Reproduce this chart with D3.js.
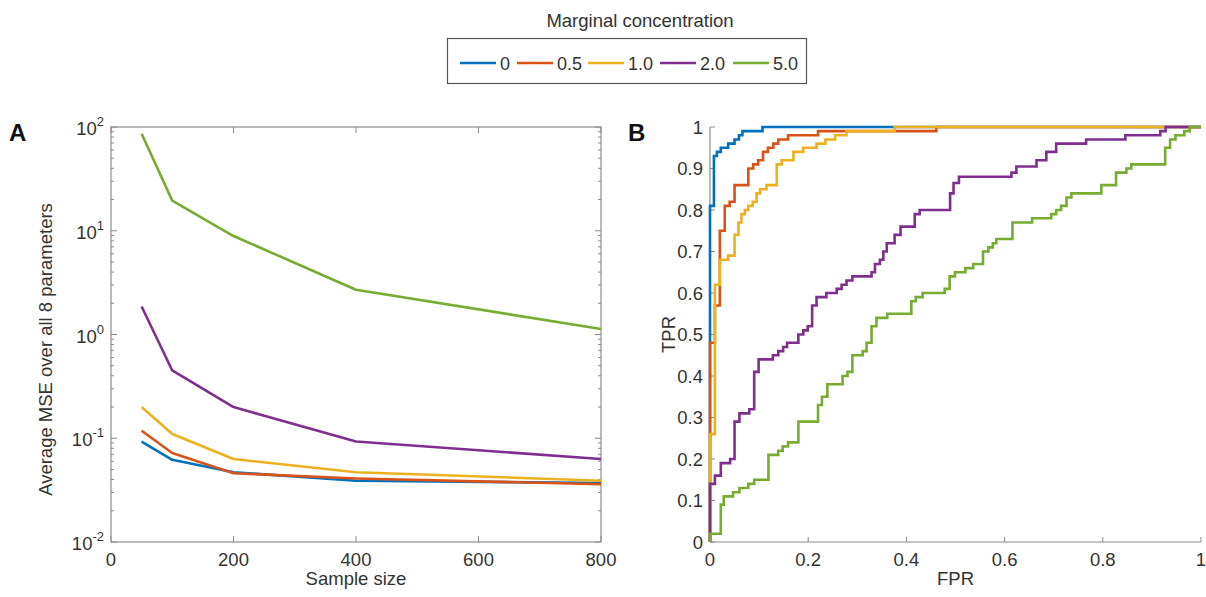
<!DOCTYPE html>
<html>
<head>
<meta charset="utf-8">
<script src="https://cdn.jsdelivr.net/npm/d3@7"></script>
<style>
  html, body { margin: 0; padding: 0; background: #fff; }
  text { font-family: "Liberation Sans", Arial, Helvetica, sans-serif; fill: #333; }
</style>
</head>
<body>
<svg id="chart" width="1206" height="597"></svg>
<script>
(function () {
  'use strict';

  // legend / series
  var concLabels = ['0', '0.5', '1.0', '2.0', '5.0'];
  var colors = ['#0072BD', '#D95319', '#EDB120', '#7E2F8E', '#77AC30'];

  // panel A : average MSE vs sample size
  var sampleSizes = [50, 100, 200, 400, 800];
  var mse0 = [0.093, 0.062, 0.047, 0.039, 0.037];
  var mse05 = [0.118, 0.072, 0.046, 0.041, 0.036];
  var mse1 = [0.20, 0.11, 0.063, 0.047, 0.039];
  var mse2 = [1.86, 0.45, 0.20, 0.093, 0.063];
  var mse5 = [86, 19.5, 8.9, 2.7, 1.13];

  var xTicksA = [0, 200, 400, 600, 800];
  var yTicksA = [0.01, 0.1, 1, 10, 100];
  var yExpA = ['-2', '-1', '0', '1', '2'];

  // panel B : ROC curves (fpr where tpr steps up, tpr after the step)
  var fpr0 = [0, 0, 0.008, 0.014, 0.022, 0.037, 0.05, 0.059, 0.066, 0.107, 1];
  var tpr0 = [0, 0.81, 0.93, 0.94, 0.95, 0.96, 0.97, 0.98, 0.99, 1.0, 1.0];

  var fpr05 = [0, 0, 0.01, 0.02, 0.03, 0.04, 0.05, 0.078, 0.088, 0.098, 0.108, 0.118, 0.129, 0.139, 0.159, 0.22, 0.461, 1];
  var tpr05 = [0, 0.48, 0.57, 0.75, 0.81, 0.82, 0.86, 0.90, 0.91, 0.92, 0.94, 0.95, 0.96, 0.97, 0.98, 0.99, 1.0, 1.0];

  var fpr1 = [0, 0, 0.01, 0.02, 0.037, 0.05, 0.058, 0.064, 0.071, 0.078, 0.087, 0.095, 0.102, 0.115, 0.136, 0.146, 0.17, 0.19, 0.217, 0.235, 0.255, 0.278, 0.376, 1];
  var tpr1 = [0, 0.26, 0.62, 0.68, 0.69, 0.74, 0.77, 0.79, 0.80, 0.81, 0.82, 0.84, 0.85, 0.86, 0.91, 0.92, 0.94, 0.95, 0.96, 0.97, 0.98, 0.99, 1.0, 1.0];

  var fpr2 = [0, 0, 0.01, 0.022, 0.041, 0.05, 0.06, 0.08, 0.09, 0.099, 0.128, 0.139, 0.149, 0.157, 0.18, 0.19, 0.199, 0.208, 0.217, 0.237, 0.258, 0.268, 0.278, 0.29, 0.329, 0.336, 0.346, 0.353, 0.36, 0.376, 0.388, 0.417, 0.427, 0.489, 0.496, 0.507, 0.614, 0.624, 0.665, 0.685, 0.705, 0.766, 0.846, 0.917, 0.928, 1];
  var tpr2 = [0, 0.14, 0.16, 0.19, 0.20, 0.29, 0.31, 0.32, 0.41, 0.44, 0.45, 0.46, 0.47, 0.48, 0.50, 0.51, 0.52, 0.57, 0.59, 0.60, 0.61, 0.62, 0.63, 0.64, 0.65, 0.67, 0.68, 0.70, 0.72, 0.74, 0.76, 0.79, 0.80, 0.84, 0.865, 0.88, 0.89, 0.905, 0.92, 0.94, 0.96, 0.97, 0.98, 0.99, 1.0, 1.0];

  var fpr5 = [0, 0, 0.022, 0.028, 0.047, 0.06, 0.078, 0.09, 0.119, 0.139, 0.148, 0.159, 0.18, 0.22, 0.228, 0.239, 0.27, 0.28, 0.29, 0.311, 0.319, 0.329, 0.339, 0.361, 0.41, 0.419, 0.433, 0.478, 0.488, 0.499, 0.52, 0.536, 0.556, 0.567, 0.576, 0.583, 0.616, 0.656, 0.695, 0.705, 0.715, 0.726, 0.736, 0.797, 0.827, 0.848, 0.858, 0.927, 0.937, 0.948, 0.966, 0.977, 1];
  var tpr5 = [0, 0.02, 0.09, 0.11, 0.12, 0.13, 0.14, 0.15, 0.21, 0.22, 0.23, 0.24, 0.29, 0.33, 0.35, 0.38, 0.40, 0.41, 0.45, 0.46, 0.48, 0.52, 0.54, 0.55, 0.58, 0.59, 0.60, 0.61, 0.64, 0.65, 0.66, 0.67, 0.70, 0.71, 0.72, 0.73, 0.77, 0.78, 0.79, 0.80, 0.81, 0.83, 0.84, 0.86, 0.89, 0.90, 0.91, 0.95, 0.97, 0.98, 0.99, 1.0, 1.0];

  var xTicksB = [0, 0.2, 0.4, 0.6, 0.8, 1];
  var yTicksB = [0, 0.1, 0.2, 0.3, 0.4, 0.5, 0.6, 0.7, 0.8, 0.9, 1];

  var mseSeries = [mse0, mse05, mse1, mse2, mse5];
  var rocSeries = [[fpr0, tpr0], [fpr05, tpr05], [fpr1, tpr1], [fpr2, tpr2], [fpr5, tpr5]];

  var axisColor = '#8c8c8c';
  var svg = d3.select('#chart');

  // ---------- legend ----------
  svg.append('text').attr('x', 640).attr('y', 27).attr('text-anchor', 'middle')
    .style('font-size', '18.5px').text('Marginal concentration');
  svg.append('rect').attr('x', 447.5).attr('y', 38.5).attr('width', 359).attr('height', 45)
    .attr('fill', '#fff').attr('stroke', '#555').attr('stroke-width', 1.2);
  var legX = [460, 517, 588, 660, 733];
  var leg = svg.selectAll('.leg').data(concLabels).enter().append('g').attr('class', 'leg')
    .attr('transform', function (d, i) { return 'translate(' + legX[i] + ',63)'; });
  leg.append('line').attr('x1', 0).attr('x2', 36).attr('y1', 0).attr('y2', 0)
    .attr('stroke', function (d, i) { return colors[i]; }).attr('stroke-width', 2.5);
  leg.append('text').attr('x', 40).attr('y', 6.5).style('font-size', '18px').text(function (d) { return d; });

  // ---------- panel A ----------
  var ax = { l: 111, r: 601, t: 127, b: 542 };
  var xA = d3.scaleLinear().domain([0, 800]).range([ax.l, ax.r]);
  var yA = d3.scaleLog().domain([0.01, 100]).range([ax.b, ax.t]);

  var gA = svg.append('g');
  gA.append('rect').attr('x', ax.l).attr('y', ax.t).attr('width', ax.r - ax.l).attr('height', ax.b - ax.t)
    .attr('fill', 'none').attr('stroke', axisColor).attr('stroke-width', 1.2);

  var minorA = [];
  [0.01, 0.1, 1, 10].forEach(function (dec) {
    for (var k = 2; k <= 9; k++) minorA.push(dec * k);
  });
  [ax.l, ax.r].forEach(function (xp, side) {
    var dir = side === 0 ? 1 : -1;
    gA.selectAll(null).data(yTicksA).enter().append('line')
      .attr('x1', xp).attr('x2', xp + dir * 6)
      .attr('y1', function (d) { return yA(d); }).attr('y2', function (d) { return yA(d); })
      .attr('stroke', axisColor);
    gA.selectAll(null).data(minorA).enter().append('line')
      .attr('x1', xp).attr('x2', xp + dir * 3)
      .attr('y1', function (d) { return yA(d); }).attr('y2', function (d) { return yA(d); })
      .attr('stroke', axisColor);
  });
  [ax.b, ax.t].forEach(function (yp, side) {
    var dir = side === 0 ? -1 : 1;
    gA.selectAll(null).data(xTicksA).enter().append('line')
      .attr('x1', function (d) { return xA(d); }).attr('x2', function (d) { return xA(d); })
      .attr('y1', yp).attr('y2', yp + dir * 6).attr('stroke', axisColor);
  });

  gA.selectAll(null).data(xTicksA).enter().append('text')
    .attr('x', function (d) { return xA(d); }).attr('y', 566)
    .attr('text-anchor', 'middle').style('font-size', '18.5px').text(function (d) { return d; });

  var yl = gA.selectAll(null).data(yTicksA).enter().append('text')
    .attr('x', 104).attr('y', function (d) { return yA(d) + 8; })
    .attr('text-anchor', 'end').style('font-size', '18.5px');
  yl.append('tspan').text('10');
  yl.append('tspan').attr('dy', -9).style('font-size', '13px')
    .text(function (d, i) { return yExpA[i]; });

  gA.append('text').attr('x', (ax.l + ax.r) / 2).attr('y', 585).attr('text-anchor', 'middle')
    .style('font-size', '18.5px').text('Sample size');
  gA.append('text').attr('transform', 'translate(52,' + ((ax.t + ax.b) / 2 + 15) + ') rotate(-90)')
    .attr('text-anchor', 'middle').style('font-size', '18.5px').text('Average MSE over all 8 parameters');
  svg.append('text').attr('x', 9).attr('y', 141).style('font-size', '24px').style('font-weight', 'bold')
    .style('fill', '#111').text('A');

  var lineA = d3.line()
    .x(function (d, i) { return xA(sampleSizes[i]); })
    .y(function (d) { return yA(d); });
  gA.selectAll('.mse').data(mseSeries).enter().append('path').attr('class', 'mse')
    .attr('d', lineA).attr('fill', 'none')
    .attr('stroke', function (d, i) { return colors[i]; }).attr('stroke-width', 2.6)
    .attr('stroke-linejoin', 'round');

  // ---------- panel B ----------
  var bx = { l: 710, r: 1201, t: 127, b: 542 };
  var xB = d3.scaleLinear().domain([0, 1]).range([bx.l, bx.r]);
  var yB = d3.scaleLinear().domain([0, 1]).range([bx.b, bx.t]);
  var gB = svg.append('g');

  gB.append('line').attr('x1', bx.l).attr('x2', bx.l).attr('y1', bx.t).attr('y2', bx.b)
    .attr('stroke', axisColor).attr('stroke-width', 1.2);
  gB.append('line').attr('x1', bx.l).attr('x2', bx.r).attr('y1', bx.b).attr('y2', bx.b)
    .attr('stroke', axisColor).attr('stroke-width', 1.2);
  gB.selectAll(null).data(yTicksB).enter().append('line')
    .attr('x1', bx.l).attr('x2', bx.l + 5)
    .attr('y1', function (d) { return yB(d); }).attr('y2', function (d) { return yB(d); })
    .attr('stroke', axisColor);
  gB.selectAll(null).data(xTicksB).enter().append('line')
    .attr('x1', function (d) { return xB(d); }).attr('x2', function (d) { return xB(d); })
    .attr('y1', bx.b).attr('y2', bx.b - 5).attr('stroke', axisColor);

  gB.selectAll(null).data(yTicksB).enter().append('text')
    .attr('x', 703).attr('y', function (d) { return yB(d) + 6.5; })
    .attr('text-anchor', 'end').style('font-size', '18.5px').text(function (d) { return d; });
  gB.selectAll(null).data(xTicksB).enter().append('text')
    .attr('x', function (d) { return xB(d); }).attr('y', 566)
    .attr('text-anchor', 'middle').style('font-size', '18.5px').text(function (d) { return d; });
  gB.append('text').attr('x', (bx.l + bx.r) / 2).attr('y', 585).attr('text-anchor', 'middle')
    .style('font-size', '18.5px').text('FPR');
  gB.append('text').attr('transform', 'translate(675,' + ((bx.t + bx.b) / 2) + ') rotate(-90)')
    .attr('text-anchor', 'middle').style('font-size', '18.5px').text('TPR');
  svg.append('text').attr('x', 628).attr('y', 141).style('font-size', '24px').style('font-weight', 'bold')
    .style('fill', '#111').text('B');

  var lineB = d3.line().curve(d3.curveStepAfter)
    .x(function (d) { return xB(d[0]); })
    .y(function (d) { return yB(d[1]); });
  gB.selectAll('.roc').data(rocSeries).enter().append('path').attr('class', 'roc')
    .attr('d', function (s) { return lineB(d3.zip(s[0], s[1])); })
    .attr('fill', 'none')
    .attr('stroke', function (d, i) { return colors[i]; }).attr('stroke-width', 2.6);
})();
</script>
</body>
</html>
